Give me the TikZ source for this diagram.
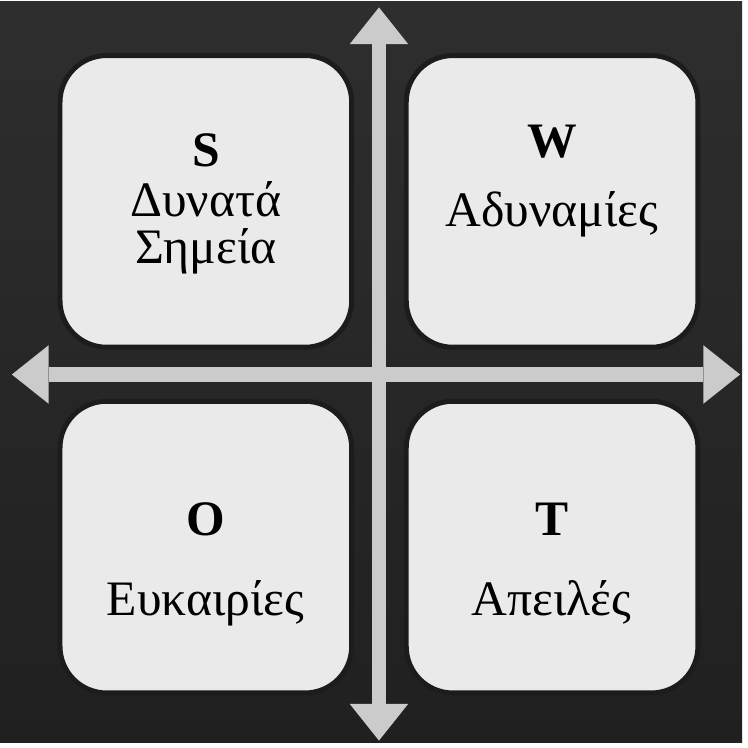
\documentclass[tikz,border=0pt]{standalone}
\usepackage{fontspec}
\setmainfont{Liberation Serif}
\usetikzlibrary{arrows.meta}

\definecolor{bgtop}{HTML}{2E2E2E}
\definecolor{bgbot}{HTML}{202020}
\definecolor{boxfill}{HTML}{EAEAEA}
\definecolor{boxline}{HTML}{1C1C1C}
\definecolor{axisgray}{HTML}{CBCBCB}
\definecolor{axisedge}{HTML}{A4A4A4}

\tikzset{
  swotbox/.style={draw=boxline, fill=boxfill, line width=5pt, rounded corners=47pt,
    minimum width=294pt, minimum height=294pt, inner sep=0pt},
  headtxt/.style={anchor=base, font=\fontsize{50}{60}\selectfont\bfseries},
  bodytxt/.style={anchor=base, font=\fontsize{50}{60}\selectfont},
  axisline/.style={axisgray, line width=15pt,
    {Triangle[length=37pt,width=59pt,line width=0pt]}-{Triangle[length=37pt,width=59pt,line width=0pt]}}
}

\begin{document}
\begin{tikzpicture}[x=1pt, y=-1pt]
  % Fond sombre
  \shade[top color=bgtop, bottom color=bgbot] (0,0) rectangle (748,747);

  % Quadrants
  \node[swotbox] (sBox) at (207.5,201.5) {};
  \node[swotbox] (wBox) at (556.5,201.5) {};
  \node[swotbox] (oBox) at (207.5,550) {};
  \node[swotbox] (tBox) at (556.5,550) {};

  % Axes
  \coordinate (vTop) at (382,6);
  \coordinate (vBot) at (382,745);
  \coordinate (hLeft) at (12,376);
  \coordinate (hRight) at (746,376);
  \draw[axisline] (vTop) -- (vBot);
  \draw[axisline] (hLeft) -- (hRight);

  % Textes
  \node[headtxt] (sHead) at (207.5,166) {S};
  \node[bodytxt] (sLineA) at (207.5,217) {Δυνατά};
  \node[bodytxt] (sLineB) at (207.5,264) {Σημεία};

  \node[headtxt] (wHead) at (556.5,157) {W};
  \node[bodytxt] (wLine) at (556.5,227) {Αδυναμίες};

  \node[headtxt] (oHead) at (207,538) {O};
  \node[bodytxt] (oLine) at (207,619) {Ευκαιρίες};

  \node[headtxt] (tHead) at (556,538) {T};
  \node[bodytxt] (tLine) at (556,619) {Απειλές};
\end{tikzpicture}
\end{document}
